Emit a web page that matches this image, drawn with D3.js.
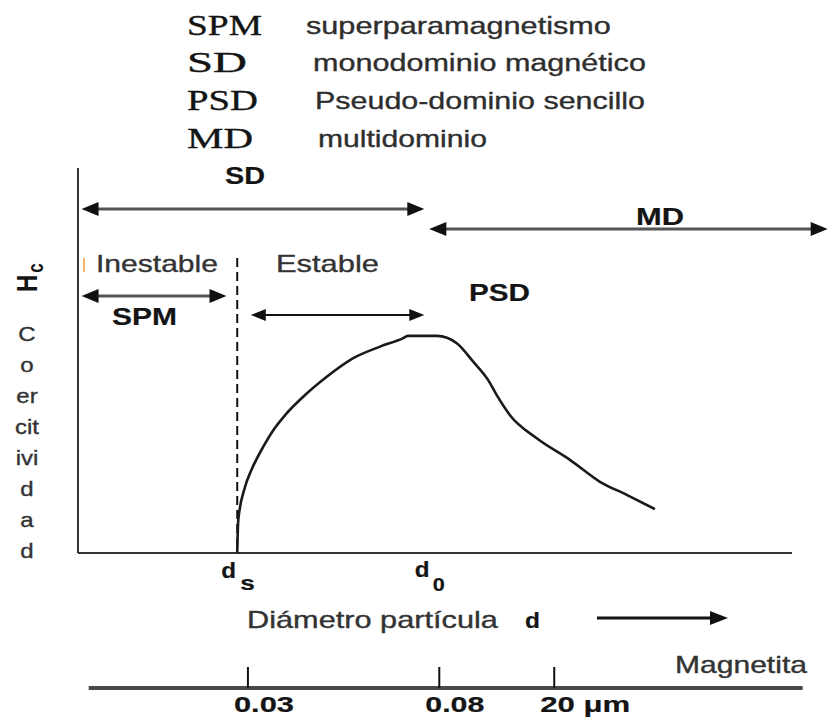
<!DOCTYPE html>
<html>
<head>
<meta charset="utf-8">
<script src="https://cdn.jsdelivr.net/npm/d3@7"></script>
<style>
  body { margin: 0; background: #fff; }
  svg { display: block; }
</style>
</head>
<body>
<div id="main"></div>
<script>
// legend at the top
var abbrevs = ["SPM", "SD", "PSD", "MD"];
var meanings = ["superparamagnetismo", "monodominio magnético", "Pseudo-dominio sencillo", "multidominio"];

// coercivity curve (arbitrary units)
var diameter = [22.3, 22.45, 23.4, 24.3, 25.95, 27.35, 29.0, 31.55, 34.8, 38.55, 42.3, 45.55, 46.2, 50.3, 53.05, 55.35, 57.45, 58.65, 60.5, 64.25, 68.9, 73.1, 76.85, 80.8];
var coercivity = [0, 8.6, 17.2, 21.6, 27.6, 31.9, 35.8, 40.6, 45.7, 50.6, 53.6, 55.8, 56.4, 56.4, 54.5, 49.7, 44.9, 41.0, 35.8, 29.8, 24.2, 18.5, 15.1, 11.4];

var ds = 22.3;
var d0 = 48.3;

// domain ranges shown as arrows
var rangeNames = ["SD", "MD", "SPM", "PSD"];
var rangeFrom = [0.5, 49.2, 0.5, 24.2];
var rangeTo = [48.5, 105, 20.8, 48.5];

var yLabelRows = ["C", "o", "er", "cit", "ivi", "d", "a", "d"];

// magnetite size scale
var sizeTicks = ["0.03", "0.08", "20 μm"];
var sizeTickAt = [23.8, 50.6, 66.7];

var W = 831, H = 717;
var SANS = "'Liberation Sans', Arial, Helvetica, sans-serif";
var SERIF = "'Liberation Serif', 'Times New Roman', serif";

var svg = d3.select("#main").append("svg")
  .attr("width", W)
  .attr("height", H);

var x = d3.scaleLinear().domain([0, 100]).range([78, 792]);
var y = d3.scaleLinear().domain([0, 100]).range([553, 168]);

// text stretched sideways like in the scanned figure
function txt(g, px, py, s, size, opt) {
  opt = opt || {};
  var col = opt.color || "#2a2a2a";
  var t = g.append("text")
    .attr("transform", "translate(" + px + "," + py + ")")
    .attr("font-family", opt.serif ? SERIF : SANS)
    .attr("font-size", size + "px")
    .attr("font-weight", opt.bold ? "bold" : "normal")
    .attr("fill", col)
    .attr("stroke", col)
    .attr("stroke-width", opt.bold ? 0.2 : 0.35)
    .attr("text-anchor", opt.anchor || "start")
    .text(s);
  var sx = 1;
  if (opt.w) sx = opt.w / t.node().getComputedTextLength();
  else if (opt.stretch) sx = opt.stretch;
  if (sx !== 1) t.attr("transform", "translate(" + px + "," + py + ") scale(" + sx + ",1)");
  return t;
}

function arrow(g, x1, x2, py, both, st) {
  var L = st.head, hw = st.half;
  g.append("line")
    .attr("x1", both ? x1 + L - 2 : x1)
    .attr("x2", x2 - L + 2)
    .attr("y1", py).attr("y2", py)
    .attr("stroke", st.color)
    .attr("stroke-width", st.width);
  g.append("path")
    .attr("d", "M" + x2 + "," + py + "L" + (x2 - L) + "," + (py - hw) + "L" + (x2 - L) + "," + (py + hw) + "Z")
    .attr("fill", "#111");
  if (both) {
    g.append("path")
      .attr("d", "M" + x1 + "," + py + "L" + (x1 + L) + "," + (py - hw) + "L" + (x1 + L) + "," + (py + hw) + "Z")
      .attr("fill", "#111");
  }
}

/* legend */
var legend = svg.append("g");
var rowY = [35, 72, 110, 148];
var abbrevW = [75, 60, 71, 66];
var meanX = [306, 313, 315, 318];
var meanW = [305, 333, 330, 169];
abbrevs.forEach(function(a, i) {
  txt(legend, 187, rowY[i], a, 30, { serif: true, color: "#141414", w: abbrevW[i] });
  txt(legend, meanX[i], rowY[i] - 1, meanings[i], 24, { color: "#2e2e2e", w: meanW[i] });
});

/* axes */
var chart = svg.append("g");
chart.append("line")
  .attr("x1", x(0)).attr("x2", x(0))
  .attr("y1", y(100)).attr("y2", y(0))
  .attr("stroke", "#333").attr("stroke-width", 2);
chart.append("line")
  .attr("x1", x(0)).attr("x2", x(100))
  .attr("y1", y(0)).attr("y2", y(0))
  .attr("stroke", "#333").attr("stroke-width", 2);

// dashed boundary at ds
chart.append("line")
  .attr("x1", x(ds)).attr("x2", x(ds))
  .attr("y1", y(76.6)).attr("y2", y(0))
  .attr("stroke", "#111")
  .attr("stroke-width", 2)
  .attr("stroke-dasharray", "9,5");

// curve
var line = d3.line()
  .x(function(d, i) { return x(diameter[i]); })
  .y(function(d) { return y(d); })
  .curve(d3.curveMonotoneX);

chart.append("path")
  .datum(coercivity)
  .attr("d", line)
  .attr("fill", "none")
  .attr("stroke", "#1a1a1a")
  .attr("stroke-width", 2.6);

/* range arrows */
var arrowY = [209, 229, 296, 315];
var arrowStyle = [
  { color: "#555", width: 3, head: 17, half: 7 },
  { color: "#555", width: 3, head: 17, half: 7 },
  { color: "#555", width: 3, head: 17, half: 7 },
  { color: "#111", width: 2, head: 15, half: 6 }
];
var labX = [225, 636, 112, 469];
var labY = [184, 225, 325, 301];
var labW = [40, 48, 65, 61];
rangeNames.forEach(function(n, i) {
  arrow(chart, x(rangeFrom[i]), x(rangeTo[i]), arrowY[i], true, arrowStyle[i]);
  txt(chart, labX[i], labY[i], n, 23, { bold: true, color: "#141414", w: labW[i] });
});

chart.append("line")
  .attr("x1", 84).attr("x2", 84)
  .attr("y1", 258).attr("y2", 272)
  .attr("stroke", "#f2b46a").attr("stroke-width", 2);
txt(chart, 96, 272, "Inestable", 24, { color: "#333", w: 122 });
txt(chart, 276, 272, "Estable", 24, { color: "#333", w: 103 });

/* y label */
var hc = svg.append("text")
  .attr("transform", "translate(37,292) scale(1.25,1) rotate(-90)")
  .attr("font-family", SANS)
  .attr("font-weight", "bold")
  .attr("font-size", "24px")
  .attr("fill", "#141414");
hc.append("tspan").text("H");
hc.append("tspan").attr("font-size", "17px").attr("dy", 5).attr("dx", 2).text("c");

yLabelRows.forEach(function(s, i) {
  txt(svg, 27, 341 + i * 31, s, 20, { color: "#333", anchor: "middle", stretch: 1.2 });
});

/* ds and d0 */
txt(chart, x(ds) - 16, 578, "d", 22, { bold: true, color: "#141414", stretch: 1.1 });
txt(chart, x(ds) + 3, 590, "s", 21, { bold: true, color: "#141414", stretch: 1.25 });
txt(chart, x(d0) - 8, 577, "d", 22, { bold: true, color: "#141414", stretch: 1.1 });
txt(chart, x(d0) + 10, 591, "0", 18, { bold: true, color: "#141414", stretch: 1.2 });

/* x caption */
txt(svg, 247, 628, "Diámetro partícula", 23, { color: "#333", w: 251 });
txt(svg, 525, 628, "d", 22, { bold: true, color: "#141414", w: 15 });
arrow(svg, 597, 728, 618, false, { color: "#111", width: 3, head: 18, half: 7 });

/* magnetite scale */
var bottom = svg.append("g");
var bottomY = 688;
txt(bottom, 675, 673, "Magnetita", 23, { color: "#333", w: 132 });
bottom.append("line")
  .attr("x1", x(1.5)).attr("x2", x(101.5))
  .attr("y1", bottomY).attr("y2", bottomY)
  .attr("stroke", "#4a4a4a").attr("stroke-width", 4);
var tickW = [60, 59, 90];
sizeTicks.forEach(function(s, i) {
  var tx = x(sizeTickAt[i]);
  bottom.append("line")
    .attr("x1", tx).attr("x2", tx)
    .attr("y1", bottomY - 21).attr("y2", bottomY)
    .attr("stroke", "#111").attr("stroke-width", 2);
  txt(bottom, tx - 14, 712, s, 22, { bold: true, color: "#141414", w: tickW[i] });
});
</script>
</body>
</html>
